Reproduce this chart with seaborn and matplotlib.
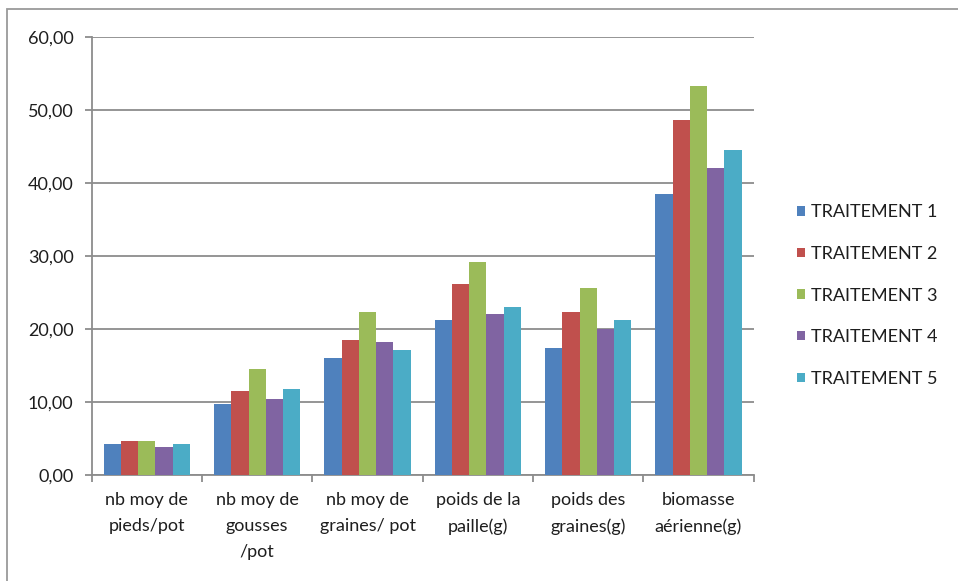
import matplotlib
matplotlib.use("Agg")
import matplotlib.pyplot as plt
import seaborn as sns
import pandas as pd
import numpy as np
from matplotlib.ticker import FixedLocator, FuncFormatter
from matplotlib.patches import Rectangle

categories = [
    "nb moy de\npieds/pot",
    "nb moy de\ngousses\n/pot",
    "nb moy de\ngraines/ pot",
    "poids de la\npaille(g)",
    "poids des\ngraines(g)",
    "biomasse\naérienne(g)",
]
series_names = ["TRAITEMENT 1", "TRAITEMENT 2", "TRAITEMENT 3", "TRAITEMENT 4", "TRAITEMENT 5"]
traitement_1 = [4.27, 9.8, 16.0, 21.2, 17.4, 38.5]
traitement_2 = [4.76, 11.6, 18.5, 26.2, 22.3, 48.6]
traitement_3 = [4.76, 14.6, 22.3, 29.2, 25.6, 53.3]
traitement_4 = [3.94, 10.5, 18.2, 22.05, 20.1, 42.0]
traitement_5 = [4.27, 11.87, 17.1, 23.1, 21.2, 44.5]
colors = ["#4F81BD", "#C0504D", "#9BBB59", "#8064A2", "#4BACC6"]
yticks = [0, 10, 20, 30, 40, 50, 60]

rows = []
for name, vals in zip(series_names, [traitement_1, traitement_2, traitement_3, traitement_4, traitement_5]):
    for cat, v in zip(categories, vals):
        rows.append({"categorie": cat, "valeur": v, "traitement": name})
df = pd.DataFrame(rows)

sns.set_theme(style="white")
plt.rcParams["font.family"] = ["Lato", "DejaVu Sans"]
text_color = "#1E1E1E"
grid_color = "#8C8C8C"
fs = 13

fig = plt.figure(figsize=(9.58, 5.81), dpi=100)
ax = fig.add_axes([0.0957, 0.1816, 0.691, 0.7552])

sns.barplot(data=df, x="categorie", y="valeur", hue="traitement",
            order=categories, hue_order=series_names, palette=colors,
            width=0.78, saturation=1, edgecolor="none", linewidth=0,
            errorbar=None, ax=ax, zorder=3)

ax.set_xlim(-0.5, len(categories) - 0.5)
ax.set_ylim(0, 60)
ax.yaxis.set_major_locator(FixedLocator(yticks))
ax.yaxis.set_major_formatter(FuncFormatter(lambda v, p: f"{v:.2f}".replace(".", ",")))
ax.grid(axis="y", color=grid_color, linewidth=1.3, zorder=0)
ax.set_axisbelow(True)

for side in ["top", "right"]:
    ax.spines[side].set_visible(False)
for side in ["left", "bottom"]:
    ax.spines[side].set_color(grid_color)
    ax.spines[side].set_linewidth(1.3)

ax.tick_params(axis="y", which="major", direction="out", length=5, width=1.3,
               color=grid_color, labelsize=fs, labelcolor=text_color, pad=8, left=True)
ax.tick_params(axis="x", which="major", length=0, labelsize=fs, labelcolor=text_color, pad=12)
ax.xaxis.set_minor_locator(FixedLocator(np.arange(-0.5, len(categories), 1.0)))
ax.tick_params(axis="x", which="minor", direction="out", length=5, width=1.3,
               color=grid_color, bottom=True)
for lbl in ax.get_xticklabels():
    lbl.set_linespacing(1.75)
    lbl.set_verticalalignment("top")

ax.set_xlabel("")
ax.set_ylabel("")

leg = ax.legend(loc="center left", bbox_to_anchor=(1.055, 0.41), frameon=False,
                fontsize=fs, handlelength=0.42, handleheight=0.42, handletextpad=0.35,
                labelspacing=1.42, borderaxespad=0)
for t in leg.get_texts():
    t.set_color(text_color)

# outer chart frame
fig.patches.append(Rectangle((7 / 958, -0.1), 1.2, 1 - 9 / 581 + 0.1,
                             transform=fig.transFigure, fill=False,
                             edgecolor="#9A9A9A", linewidth=1.3))

fig.savefig("out.png", dpi=100)
